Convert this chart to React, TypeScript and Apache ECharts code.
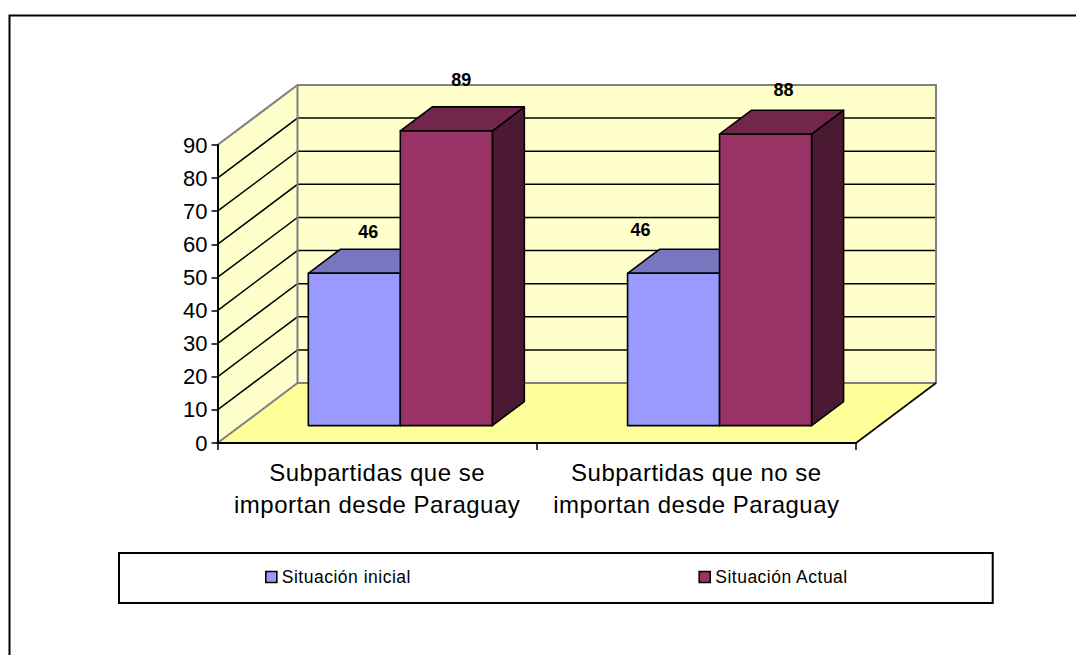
import React, { useEffect, useRef } from "react";
import * as echarts from "echarts";

const categories = ["Subpartidas que se\nimportan desde Paraguay", "Subpartidas que no se\nimportan desde Paraguay"];
const seriesNames = ["Situación inicial", "Situación Actual"];
const inicial = [46, 46];
const actual = [89, 88];
const labelOffsetsInicial = [[14, -41], [-33, -43]];
const labelOffsetsActual = [[15, -51], [18, -44]];
const yMax = 90;
const yStep = 10;
const yTicks = [10, 20, 30, 40, 50, 60, 70, 80];

const DX = 80;
const DY = -60;
const FRONT = 0.29;
const BAR_DEPTH = 0.4;
const GAP = 1.47;
const LINE = 1.6;

const colors = {
  wall: "#FFFFCC",
  floor: "#FFFF99",
  frame: "#808080",
  a: { front: "#9999FF", top: "#7777C0", side: "#4D4D80" },
  b: { front: "#993366", top: "#72264C", side: "#4C1933" },
};

const letterSpacingCss = `
  .chart3d text[style*="24px"] { letter-spacing: 0.5px; }
  .chart3d text[style*="17.5px"] { letter-spacing: 0.5px; }
`;

function wallsRenderer(_p: any, api: any) {
  const band = api.size([1, 0])[0];
  const [cx, y0] = api.coord([0, 0]);
  const [, yTop] = api.coord([0, yMax]);
  const x0 = cx - band / 2;
  const x1 = x0 + band * categories.length;
  const frame = { stroke: colors.frame, lineWidth: 2 };
  const children: any[] = [
    { type: "polygon", shape: { points: [[x0 + DX, yTop + DY], [x1 + DX, yTop + DY], [x1 + DX, y0 + DY], [x0 + DX, y0 + DY]] }, style: { fill: colors.wall } },
    { type: "polygon", shape: { points: [[x0, yTop], [x0 + DX, yTop + DY], [x0 + DX, y0 + DY], [x0, y0]] }, style: { fill: colors.wall } },
    { type: "polygon", shape: { points: [[x0, y0], [x1, y0], [x1 + DX, y0 + DY], [x0 + DX, y0 + DY]] }, style: { fill: colors.floor } },
  ];
  yTicks.forEach((v) => {
    const [, y] = api.coord([0, v]);
    children.push({
      type: "polyline",
      shape: { points: [[x0, y], [x0 + DX, y + DY], [x1 + DX, y + DY]] },
      style: { fill: "none", stroke: "#000", lineWidth: 1.5 },
    });
  });
  children.push(
    { type: "polyline", shape: { points: [[x0, y0], [x0 + DX, y0 + DY], [x1 + DX, y0 + DY], [x1 + DX, yTop + DY], [x0 + DX, yTop + DY], [x0, yTop]] }, style: { fill: "none", ...frame } },
    { type: "line", shape: { x1: x0 + DX, y1: yTop + DY, x2: x0 + DX, y2: y0 + DY }, style: frame },
    { type: "line", shape: { x1, y1: y0, x2: x1 + DX, y2: y0 + DY }, style: { stroke: "#000", lineWidth: 1.6 } },
  );
  return { type: "group", children };
}

function barRenderer(slot: number, palette: any, offsets: number[][]) {
  return (params: any, api: any) => {
    const band = api.size([1, 0])[0];
    const [cx, yTop0] = api.coord([api.value(0), api.value(1)]);
    const [, yBase0] = api.coord([api.value(0), 0]);
    const w = band / (2 + GAP);
    const ox = DX * FRONT;
    const oy = DY * FRONT;
    const l = cx - w + slot * w + ox;
    const r = l + w;
    const t = yTop0 + oy;
    const b = yBase0 + oy;
    const dx = DX * BAR_DEPTH;
    const dy = DY * BAR_DEPTH;
    const st = { stroke: "#000", lineWidth: LINE, lineJoin: "round" };
    const off = offsets[params.dataIndex];
    return {
      type: "group",
      children: [
        { type: "polygon", shape: { points: [[r, t], [r + dx, t + dy], [r + dx, b + dy], [r, b]] }, style: { fill: palette.side, ...st } },
        { type: "polygon", shape: { points: [[l, t], [l + dx, t + dy], [r + dx, t + dy], [r, t]] }, style: { fill: palette.top, ...st } },
        { type: "polygon", shape: { points: [[l, t], [r, t], [r, b], [l, b]] }, style: { fill: palette.front, ...st } },
        {
          type: "text",
          z2: 50,
          style: {
            x: (l + r) / 2 + off[0],
            y: t + off[1],
            text: String(api.value(1)),
            fill: "#000",
            font: "bold 18px 'Liberation Sans', Arial, sans-serif",
            align: "center",
            verticalAlign: "middle",
          },
        },
      ],
    };
  };
}

export default function App() {
  const ref = useRef<HTMLDivElement>(null);
  useEffect(() => {
    document.body.style.margin = "0";
    const chart = echarts.init(ref.current!, null, { renderer: "svg" });
    const font = "'Liberation Sans', Arial, sans-serif";
    chart.setOption({
      animation: false,
      backgroundColor: "#fff",
      textStyle: { fontFamily: font },
      grid: { left: 217.5, top: 145, width: 638.5, height: 298, containLabel: false },
      xAxis: {
        type: "category",
        data: categories,
        z: 5,
        boundaryGap: true,
        axisLine: { lineStyle: { color: "#000", width: 2 } },
        axisTick: { show: true, length: 7, lineStyle: { color: "#000", width: 1.5 } },
        axisLabel: { color: "#000", fontSize: 24, lineHeight: 32, margin: 13, interval: 0, fontFamily: font },
        splitLine: { show: false },
      },
      yAxis: {
        type: "value",
        min: 0,
        max: yMax,
        interval: yStep,
        z: 5,
        axisLine: { show: true, lineStyle: { color: "#000", width: 2 } },
        axisTick: { show: true, length: 6, lineStyle: { color: "#000", width: 1.5 } },
        axisLabel: { color: "#000", fontSize: 22, margin: 10, padding: [3, 0, 0, 0], fontFamily: font },
        splitLine: { show: false },
      },
      legend: {
        left: 119,
        top: 553,
        orient: "horizontal",
        data: seriesNames.map((name) => ({ name, icon: "rect" })),
        itemWidth: 11,
        itemHeight: 11,
        itemGap: 296,
        padding: [15, 152, 17, 146],
        borderColor: "#000",
        borderWidth: 2,
        selectedMode: false,
        textStyle: { color: "#000", fontSize: 17.5, fontFamily: font },
        itemStyle: { borderColor: "#000", borderWidth: 1.6 },
      },
      graphic: [
        {
          type: "polyline",
          shape: { points: [[9.5, 660], [9.5, 15.5], [1080, 15.5]] },
          style: { fill: "none", stroke: "#000", lineWidth: 2 },
        },
      ],
      series: [
        {
          type: "custom",
          name: "walls",
          coordinateSystem: "cartesian2d",
          clip: false,
          z: 1,
          silent: true,
          data: [[0, 0]],
          encode: { x: 0, y: 1 },
          renderItem: wallsRenderer,
        },
        {
          type: "custom",
          name: seriesNames[0],
          coordinateSystem: "cartesian2d",
          clip: false,
          z: 2,
          itemStyle: { color: colors.a.front },
          data: inicial.map((v, i) => [i, v]),
          encode: { x: 0, y: 1 },
          renderItem: barRenderer(0, colors.a, labelOffsetsInicial),
        },
        {
          type: "custom",
          name: seriesNames[1],
          coordinateSystem: "cartesian2d",
          clip: false,
          z: 3,
          itemStyle: { color: colors.b.front },
          data: actual.map((v, i) => [i, v]),
          encode: { x: 0, y: 1 },
          renderItem: barRenderer(1, colors.b, labelOffsetsActual),
        },
      ],
    });
    return () => chart.dispose();
  }, []);
  return (
    <>
      <style>{letterSpacingCss}</style>
      <div ref={ref} className="chart3d" style={{ position: "fixed", left: 0, top: 0, width: 1076, height: 655 }} />
    </>
  );
}
